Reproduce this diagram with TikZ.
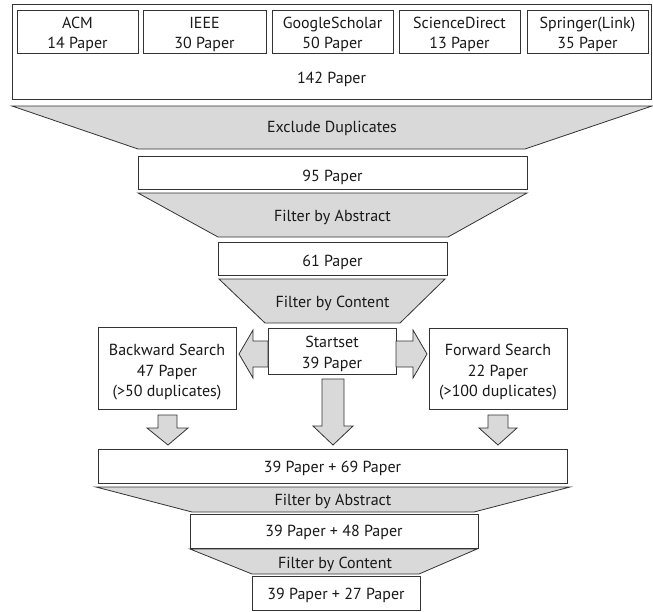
\documentclass[tikz,border=0pt]{standalone}
\usepackage{fontspec}
\setmainfont{PT Sans}
\begin{document}
\begin{tikzpicture}[x=1pt,y=-1pt,
  every node/.style={font=\fontsize{16}{20.5}\selectfont, text=black!90},
  box/.style={draw=black!80, line width=0.8pt, fill=white, inner sep=0pt},
  funnel/.style={draw=black!80, line width=0.8pt, fill=black!15, line join=miter},
  blockarrow/.style={draw=black!80, line width=0.8pt, fill=black!15, line join=miter},
  txt/.style={inner sep=0pt, anchor=base}]
\useasboundingbox (0,0) rectangle (653,611);
% top group
\node[box, minimum width=639pt, minimum height=95pt] (all) at (331.5,51.5) {};
\node[box, minimum width=121pt, minimum height=43pt] (acm) at (77.5,31.5) {};
\node[box, minimum width=123pt, minimum height=43pt] (ieee) at (204.5,31.5) {};
\node[box, minimum width=121pt, minimum height=43pt] (gs) at (332.5,31.5) {};
\node[box, minimum width=121pt, minimum height=43pt] (sd) at (459.5,31.5) {};
\node[box, minimum width=121pt, minimum height=43pt] (spr) at (587.5,31.5) {};
\node[txt] (acm1) at (77.5,28) {ACM};
\node[txt] (acm2) at (77.5,48) {14 Paper};
\node[txt] (ieee1) at (204.5,28) {IEEE};
\node[txt] (ieee2) at (204.5,48) {30 Paper};
\node[txt] (gs1) at (332.5,28) {GoogleScholar};
\node[txt] (gs2) at (332.5,48) {50 Paper};
\node[txt] (sd1) at (459.5,28) {ScienceDirect};
\node[txt] (sd2) at (459.5,48) {13 Paper};
\node[txt] (spr1) at (587.5,28) {Springer(Link)};
\node[txt] (spr2) at (587.5,48) {35 Paper};
\node[txt] (total) at (331.5,83) {142 Paper};
% funnel 1
\draw[funnel] (12,106) -- (652,106) -- (525,149) -- (138,149) -- cycle;
\node[txt] (f1) at (332,132) {Exclude Duplicates};
\node[box, minimum width=389pt, minimum height=33pt] (p95) at (332.5,172.5) {};
\node[txt] (p95t) at (332.5,181) {95 Paper};
% funnel 2
\draw[funnel] (138,193) -- (527,193) -- (448,237) -- (218,237) -- cycle;
\node[txt] (f2) at (332.5,221) {Filter by Abstract};
\node[box, minimum width=229pt, minimum height=33pt] (p61) at (332.5,258.5) {};
\node[txt] (p61t) at (332.5,266) {61 Paper};
% funnel 3
\draw[funnel] (219,279) -- (445,279) -- (400,323) -- (265,323) -- cycle;
\node[txt] (f3) at (332.5,307) {Filter by Content};
% middle
\node[box, minimum width=128pt, minimum height=46pt] (start) at (332,351) {};
\node[txt] (start1) at (332,347) {Startset};
\node[txt] (start2) at (332,368) {39 Paper};
\node[box, minimum width=138pt, minimum height=82pt] (back) at (167,368) {};
\node[txt] (back1) at (167,355) {Backward Search};
\node[txt] (back2) at (167,376) {47 Paper};
\node[txt] (back3) at (167,396.5) {(>50 duplicates)};
\node[box, minimum width=138pt, minimum height=81pt] (fwd) at (498,368.5) {};
\node[txt] (fwd1) at (498,355) {Forward Search};
\node[txt] (fwd2) at (498,376) {22 Paper};
\node[txt] (fwd3) at (498,396.5) {(>100 duplicates)};
% block arrows
\draw[blockarrow] (268,341) -- (253,341) -- (253,330) -- (239,354) -- (253,378) -- (253,367) -- (268,367) -- cycle;
\draw[blockarrow] (396,341) -- (413,341) -- (413,330) -- (427,354) -- (413,378) -- (413,367) -- (396,367) -- cycle;
\draw[blockarrow] (322,379) -- (344,379) -- (344,426) -- (353,426) -- (333,445) -- (313,426) -- (322,426) -- cycle;
\draw[blockarrow] (158,415) -- (177,415) -- (177,428) -- (188,428) -- (168,445) -- (147,428) -- (158,428) -- cycle;
\draw[blockarrow] (488,415) -- (508,415) -- (508,428) -- (517,428) -- (498,445) -- (479,428) -- (488,428) -- cycle;
% lower part
\node[box, minimum width=469pt, minimum height=34pt] (p108) at (332.5,466) {};
\node[txt] (p108t) at (332.5,472) {39 Paper + 69 Paper};
\draw[funnel] (96,487) -- (570,487) -- (474,512) -- (192,512) -- cycle;
\node[txt] (f4) at (333,505) {Filter by Abstract};
\node[box, minimum width=288pt, minimum height=34pt] (p87) at (334,531) {};
\node[txt] (p87t) at (334,536.5) {39 Paper + 48 Paper};
\draw[funnel] (190,549) -- (477,549) -- (419,574) -- (252,574) -- cycle;
\node[txt] (f5) at (335,568) {Filter by Content};
\node[box, minimum width=168pt, minimum height=34pt] (p66) at (336,593) {};
\node[txt] (p66t) at (336,599) {39 Paper + 27 Paper};
\end{tikzpicture}
\end{document}
